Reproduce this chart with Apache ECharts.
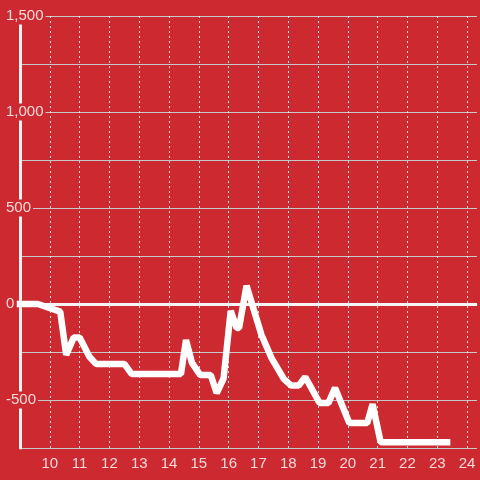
<!DOCTYPE html>
<html>
<head>
<meta charset="utf-8">
<script src="https://cdn.jsdelivr.net/npm/echarts@6/dist/echarts.min.js"></script>
<style>
html,body{margin:0;padding:0;background:#cc2a30;}
#c{width:480px;height:480px;}
</style>
</head>
<body>
<div id="c"></div>
<script>
var hours = [9.0, 9.6, 10.35, 10.55, 10.8, 11.0, 11.33, 11.55, 12.5, 12.75, 14.4, 14.57, 14.77, 15.05, 15.4, 15.6, 15.83, 16.07, 16.27, 16.35, 16.6, 17.1, 17.45, 17.85, 18.1, 18.35, 18.57, 19.05, 19.35, 19.57, 20.05, 20.65, 20.83, 21.1, 23.33];
var values = [0, 0, -40, -265, -175, -175, -275, -312, -312, -365, -365, -188, -307, -370, -370, -464, -388, -35, -125, -125, 95, -160, -285, -390, -425, -425, -380, -515, -515, -437, -620, -620, -522, -720, -720];
var yTicks = { min: -750, max: 1500, step: 250, labelStep: 500 };
var xTicks = { min: 9, max: 24.333, step: 1 };

var data = hours.map(function (h, i) { return [h, values[i]]; });
var bg = '#cc2a30';
var txt = 'rgba(255,255,255,0.82)';

var chart = echarts.init(document.getElementById('c'));
chart.setOption({
  backgroundColor: bg,
  animation: false,
  grid: { left: 20, right: 0, top: 16, bottom: 32, containLabel: false },
  xAxis: {
    type: 'value',
    min: xTicks.min, max: xTicks.max, interval: xTicks.step,
    axisLine: { show: true, lineStyle: { color: '#c8c8c8', width: 1 } },
    axisTick: { show: false },
    axisLabel: {
      color: txt, fontSize: 15, fontFamily: 'Liberation Sans, Arial, sans-serif', margin: 8,
      formatter: function (v) { return (v === xTicks.min || Math.abs(v - Math.round(v)) > 1e-6) ? '' : String(v); }
    },
    splitLine: { show: true, showMinLine: false, showMaxLine: false, lineStyle: { color: 'rgba(255,255,255,0.85)', width: 1, type: [2, 3] } }
  },
  yAxis: {
    type: 'value',
    min: yTicks.min, max: yTicks.max, interval: yTicks.step,
    axisLine: { show: true, onZero: false, lineStyle: { color: '#f2f2f2', width: 3 } },
    axisTick: { show: false },
    axisLabel: {
      color: txt, fontSize: 15, fontFamily: 'Liberation Sans, Arial, sans-serif',
      align: 'left', margin: 14,
      backgroundColor: bg, padding: [1, 2, 1, 0],
      formatter: function (v) { return (v % yTicks.labelStep === 0) ? v.toLocaleString('en-US') : ''; }
    },
    splitLine: { show: true, lineStyle: { color: '#c8c8c8', width: 1 } }
  },
  series: [{
    type: 'line',
    data: data,
    showSymbol: false,
    lineStyle: { color: '#ffffff', width: 6.5, join: 'bevel', cap: 'square' },
    z: 3,
    markLine: {
      silent: true, symbol: 'none', label: { show: false },
      lineStyle: { color: '#f5f5f5', width: 3, type: 'solid' },
      data: [{ yAxis: 0 }],
      z: 2
    }
  }]
});
</script>
</body>
</html>
